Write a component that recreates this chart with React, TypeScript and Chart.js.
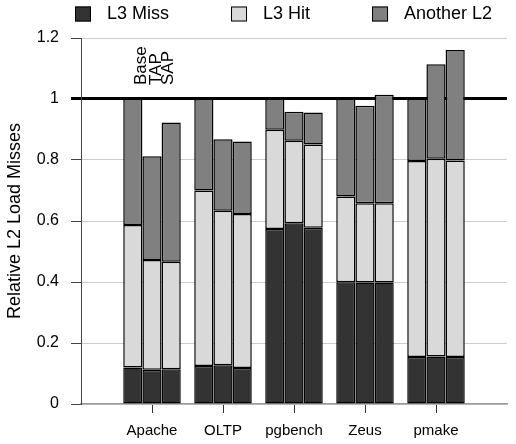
import React, { useEffect, useRef } from "react";
import { Chart, registerables } from "chart.js";

Chart.register(...registerables);

// ---- data ----
const categories = ["", "Apache", "OLTP", "pgbench", "Zeus", "pmake", ""];
const configs = ["Base", "TAP", "SAP"];
const components = ["L3 Miss", "L3 Hit", "Another L2"];
const componentColors = ["#333333", "#d9d9d9", "#808080"];

const baseL3Miss = [0.12, 0.125, 0.574, 0.399, 0.154];
const baseL3Hit = [0.467, 0.575, 0.325, 0.281, 0.643];
const baseAnotherL2 = [0.413, 0.3, 0.101, 0.32, 0.203];

const tapL3Miss = [0.112, 0.127, 0.593, 0.398, 0.156];
const tapL3Hit = [0.36, 0.507, 0.27, 0.26, 0.648];
const tapAnotherL2 = [0.34, 0.234, 0.095, 0.32, 0.31];

const sapL3Miss = [0.114, 0.118, 0.578, 0.398, 0.154];
const sapL3Hit = [0.352, 0.505, 0.273, 0.26, 0.644];
const sapAnotherL2 = [0.457, 0.238, 0.105, 0.356, 0.363];

const yTicks = [0, 0.2, 0.4, 0.6, 0.8, 1, 1.2];
const yTitle = "Relative L2 Load Misses";

const REG = "'Liberation Sans', Arial, Helvetica, sans-serif";

const seriesByConfig = [
  [baseL3Miss, baseL3Hit, baseAnotherL2],
  [tapL3Miss, tapL3Hit, tapAnotherL2],
  [sapL3Miss, sapL3Hit, sapAnotherL2],
];

const legendPlugin = {
  id: "topLegend",
  afterDraw(chart: any) {
    const { ctx, chartArea } = chart;
    ctx.save();
    ctx.font = `18px ${REG}`;
    ctx.textBaseline = "middle";
    ctx.textAlign = "left";
    let x = chartArea.left - 6;
    const cy = 14;
    components.forEach((name, k) => {
      ctx.fillStyle = componentColors[k];
      ctx.fillRect(x, cy - 7.5, 16, 15);
      ctx.strokeStyle = "#000";
      ctx.lineWidth = 1;
      ctx.strokeRect(x + 0.5, cy - 7, 15, 14);
      ctx.fillStyle = "#000";
      const tx = x + 32;
      ctx.fillText(name, tx, cy);
      x = tx + ctx.measureText(name).width + 62;
    });
    ctx.restore();
  },
};

const configLabelPlugin = {
  id: "configLabels",
  afterDatasetsDraw(chart: any) {
    const { ctx, scales } = chart;
    const x0 = scales.x.getPixelForValue(1);
    const yBottom = scales.y.getPixelForValue(1) - 14;
    const offsets = [-6, 9, 21];
    ctx.save();
    ctx.font = `17px ${REG}`;
    ctx.fillStyle = "#000";
    ctx.textAlign = "left";
    ctx.textBaseline = "alphabetic";
    configs.forEach((c, i) => {
      ctx.save();
      ctx.translate(x0 + offsets[i], yBottom);
      ctx.rotate(-Math.PI / 2);
      ctx.fillText(c, 0, 0);
      ctx.restore();
    });
    ctx.restore();
  },
};

export default function App() {
  const ref = useRef<HTMLCanvasElement | null>(null);

  useEffect(() => {
    if (!ref.current) return;
    const datasets: any[] = [];
    configs.forEach((cfg, ci) => {
      components.forEach((comp, k) => {
        datasets.push({
          label: comp,
          stack: cfg,
          data: [null, ...seriesByConfig[ci][k], null],
          backgroundColor: componentColors[k],
          borderColor: "#000",
          borderWidth: 1.5,
          borderSkipped: false,
          categoryPercentage: 0.81,
          barPercentage: 1,
        });
      });
    });

    const chart = new Chart(ref.current, {
      type: "bar",
      data: { labels: categories, datasets },
      plugins: [legendPlugin, configLabelPlugin],
      options: {
        animation: false,
        responsive: false,
        layout: { padding: { top: 38, right: 0, left: 0, bottom: 0 } },
        plugins: {
          legend: { display: false },
          tooltip: { enabled: false },
        },
        scales: {
          x: {
            stacked: true,
            offset: false,
            grid: {
              offset: false,
              drawOnChartArea: false,
              drawTicks: true,
              tickLength: 9,
              tickColor: (c: any) =>
                c.index === 0 || c.index === categories.length - 1 ? "rgba(0,0,0,0)" : "#333",
            },
            border: { display: true, color: "#999", width: 1.5 },
            ticks: {
              autoSkip: false,
              maxRotation: 0,
              padding: 9,
              color: "#000",
              font: { family: REG, size: 15 },
            },
            afterFit: (s: any) => {
              s.height = 40;
            },
          },
          y: {
            stacked: true,
            min: 0,
            max: 1.2,
            afterBuildTicks: (s: any) => {
              s.ticks = yTicks.map((v) => ({ value: v }));
            },
            afterFit: (s: any) => {
              s.width = 81;
            },
            grid: {
              color: (c: any) => (c.tick && c.tick.value === 1 ? "#000" : "#cccccc"),
              lineWidth: (c: any) => (c.tick && c.tick.value === 1 ? 3 : 1),
              tickColor: (c: any) => (c.tick && c.tick.value === 1 ? "#000" : "#444"),
              tickLength: 10,
            },
            border: { display: true, color: "#444", width: 1 },
            ticks: {
              padding: 12,
              color: "#000",
              font: { family: REG, size: 16 },
              callback: (v: any) => String(v),
            },
            title: {
              display: true,
              text: yTitle,
              color: "#000",
              font: { family: REG, size: 18 },
              padding: { top: 4, bottom: 0 },
            },
          },
        },
      },
    });
    return () => chart.destroy();
  }, []);

  return (
    <div style={{ position: "absolute", left: 0, top: 0, width: 516, height: 444 }}>
      <canvas ref={ref} width={516} height={444} />
    </div>
  );
}
